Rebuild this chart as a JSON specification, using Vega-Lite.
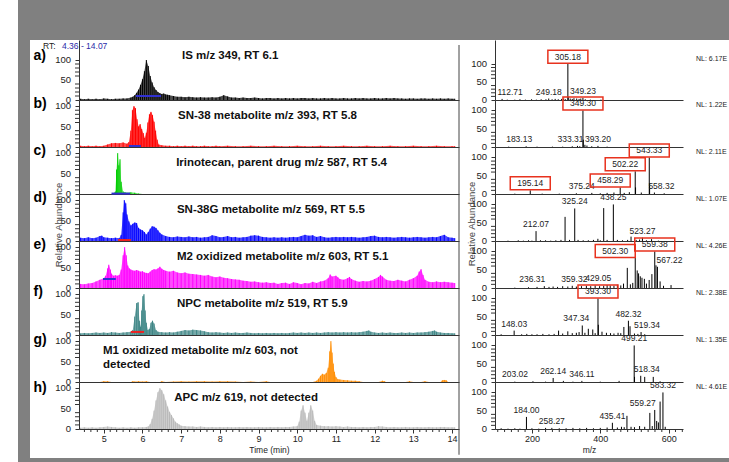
{
"$schema": "https://vega.github.io/schema/vega-lite/v6.json",
"background": "white",
"padding": {"left": 18, "top": 0, "right": 0, "bottom": 0},
"spacing": 0,
"config": {
  "view": {"stroke": null},
  "font": "Liberation Sans",
  "axis": {"grid": false, "labelFont": "Liberation Sans", "titleFont": "Liberation Sans", "labelColor": "#222", "titleColor": "#222", "domainColor": "#333", "tickColor": "#333"},
  "text": {"font": "Liberation Sans"}
},
"datasets": {
"yl": [{"y":0},{"y":50},{"y":100}],
"yt": [{"y":10},{"y":20},{"y":30},{"y":40},{"y":60},{"y":70},{"y":80},{"y":90}],
"xt": [{"x":4.5},{"x":4.6667},{"x":4.8333},{"x":5.1667},{"x":5.3333},{"x":5.5},{"x":5.6667},{"x":5.8333},{"x":6.1667},{"x":6.3333},{"x":6.5},{"x":6.6667},{"x":6.8333},{"x":7.1667},{"x":7.3333},{"x":7.5},{"x":7.6667},{"x":7.8333},{"x":8.1667},{"x":8.3333},{"x":8.5},{"x":8.6667},{"x":8.8333},{"x":9.1667},{"x":9.3333},{"x":9.5},{"x":9.6667},{"x":9.8333},{"x":10.1667},{"x":10.3333},{"x":10.5},{"x":10.6667},{"x":10.8333},{"x":11.1667},{"x":11.3333},{"x":11.5},{"x":11.6667},{"x":11.8333},{"x":12.1667},{"x":12.3333},{"x":12.5},{"x":12.6667},{"x":12.8333},{"x":13.1667},{"x":13.3333},{"x":13.5},{"x":13.6667},{"x":13.8333}],
"mt": [{"x":100},{"x":120},{"x":140},{"x":160},{"x":180},{"x":220},{"x":240},{"x":260},{"x":280},{"x":300},{"x":320},{"x":340},{"x":360},{"x":380},{"x":420},{"x":440},{"x":460},{"x":480},{"x":500},{"x":520},{"x":540},{"x":560},{"x":580},{"x":620},{"x":640}],
"ca": [{"t":4.4,"v":3},{"t":4.5,"v":2},{"t":4.6,"v":3},{"t":4.7,"v":2},{"t":4.8,"v":3},{"t":4.9,"v":2},{"t":5.0,"v":4},{"t":5.1,"v":3},{"t":5.2,"v":2},{"t":5.3,"v":3},{"t":5.4,"v":3},{"t":5.5,"v":4},{"t":5.6,"v":4},{"t":5.7,"v":6},{"t":5.75,"v":8},{"t":5.8,"v":12},{"t":5.85,"v":18},{"t":5.9,"v":26},{"t":5.95,"v":38},{"t":6.0,"v":52},{"t":6.05,"v":72},{"t":6.1,"v":100},{"t":6.15,"v":85},{"t":6.2,"v":60},{"t":6.25,"v":44},{"t":6.3,"v":32},{"t":6.35,"v":25},{"t":6.4,"v":20},{"t":6.45,"v":17},{"t":6.5,"v":15},{"t":6.55,"v":16},{"t":6.6,"v":14},{"t":6.65,"v":13},{"t":6.7,"v":12},{"t":6.8,"v":10},{"t":6.9,"v":8},{"t":7.0,"v":8},{"t":7.1,"v":7},{"t":7.2,"v":8},{"t":7.3,"v":7},{"t":7.4,"v":6},{"t":7.5,"v":7},{"t":7.6,"v":6},{"t":7.7,"v":6},{"t":7.8,"v":7},{"t":7.9,"v":6},{"t":8.0,"v":8},{"t":8.1,"v":12},{"t":8.2,"v":9},{"t":8.3,"v":6},{"t":8.4,"v":6},{"t":8.5,"v":5},{"t":8.6,"v":6},{"t":8.7,"v":5},{"t":8.8,"v":5},{"t":8.9,"v":6},{"t":9.0,"v":5},{"t":9.1,"v":4},{"t":9.2,"v":5},{"t":9.3,"v":5},{"t":9.4,"v":4},{"t":9.5,"v":5},{"t":9.6,"v":4},{"t":9.7,"v":5},{"t":9.8,"v":4},{"t":9.9,"v":5},{"t":10.0,"v":4},{"t":10.1,"v":5},{"t":10.2,"v":5},{"t":10.3,"v":4},{"t":10.4,"v":5},{"t":10.5,"v":4},{"t":10.6,"v":4},{"t":10.7,"v":5},{"t":10.8,"v":4},{"t":10.9,"v":5},{"t":11.0,"v":4},{"t":11.1,"v":4},{"t":11.2,"v":5},{"t":11.3,"v":4},{"t":11.4,"v":4},{"t":11.5,"v":5},{"t":11.6,"v":4},{"t":11.7,"v":5},{"t":11.8,"v":4},{"t":11.9,"v":4},{"t":12.0,"v":5},{"t":12.1,"v":4},{"t":12.2,"v":4},{"t":12.3,"v":5},{"t":12.4,"v":4},{"t":12.5,"v":5},{"t":12.6,"v":4},{"t":12.7,"v":4},{"t":12.8,"v":3},{"t":12.9,"v":4},{"t":13.0,"v":4},{"t":13.1,"v":3},{"t":13.2,"v":4},{"t":13.3,"v":4},{"t":13.4,"v":3},{"t":13.5,"v":4},{"t":13.6,"v":3},{"t":13.7,"v":4},{"t":13.8,"v":3},{"t":13.9,"v":4},{"t":14.0,"v":3},{"t":14.07,"v":3}],
"cb": [{"t":4.4,"v":3},{"t":4.5,"v":2},{"t":4.6,"v":3},{"t":4.7,"v":2},{"t":4.8,"v":3},{"t":4.9,"v":2},{"t":5.0,"v":3},{"t":5.1,"v":6},{"t":5.2,"v":9},{"t":5.3,"v":10},{"t":5.4,"v":9},{"t":5.5,"v":11},{"t":5.6,"v":8},{"t":5.65,"v":12},{"t":5.7,"v":40},{"t":5.74,"v":90},{"t":5.78,"v":100},{"t":5.82,"v":95},{"t":5.86,"v":68},{"t":5.9,"v":50},{"t":5.94,"v":56},{"t":5.98,"v":44},{"t":6.02,"v":34},{"t":6.06,"v":22},{"t":6.1,"v":35},{"t":6.14,"v":60},{"t":6.18,"v":80},{"t":6.22,"v":86},{"t":6.26,"v":78},{"t":6.3,"v":62},{"t":6.34,"v":40},{"t":6.38,"v":18},{"t":6.42,"v":6},{"t":6.5,"v":4},{"t":6.6,"v":3},{"t":6.7,"v":3},{"t":6.8,"v":2},{"t":6.9,"v":3},{"t":7.0,"v":2},{"t":7.1,"v":3},{"t":7.2,"v":2},{"t":7.3,"v":3},{"t":7.4,"v":2},{"t":7.5,"v":2},{"t":7.6,"v":3},{"t":7.7,"v":2},{"t":7.8,"v":2},{"t":7.9,"v":3},{"t":8.0,"v":2},{"t":8.2,"v":3},{"t":8.4,"v":2},{"t":8.6,"v":2},{"t":8.8,"v":3},{"t":9.0,"v":2},{"t":9.2,"v":2},{"t":9.4,"v":3},{"t":9.6,"v":2},{"t":9.8,"v":2},{"t":10.0,"v":3},{"t":10.2,"v":2},{"t":10.4,"v":2},{"t":10.6,"v":3},{"t":10.8,"v":2},{"t":11.0,"v":2},{"t":11.2,"v":3},{"t":11.4,"v":2},{"t":11.6,"v":2},{"t":11.8,"v":3},{"t":12.0,"v":2},{"t":12.2,"v":2},{"t":12.4,"v":3},{"t":12.6,"v":2},{"t":12.8,"v":2},{"t":13.0,"v":3},{"t":13.2,"v":2},{"t":13.4,"v":2},{"t":13.6,"v":3},{"t":13.8,"v":2},{"t":14.0,"v":2},{"t":14.07,"v":2}],
"cc": [{"t":4.4,"v":0},{"t":5.2,"v":0},{"t":5.25,"v":2},{"t":5.3,"v":6},{"t":5.33,"v":60},{"t":5.36,"v":100},{"t":5.39,"v":70},{"t":5.42,"v":85},{"t":5.45,"v":30},{"t":5.5,"v":6},{"t":5.55,"v":4},{"t":5.6,"v":3},{"t":5.7,"v":4},{"t":5.8,"v":3},{"t":5.9,"v":1},{"t":6.0,"v":0},{"t":14.07,"v":0}],
"cd": [{"t":4.4,"v":8},{"t":4.5,"v":7},{"t":4.6,"v":9},{"t":4.7,"v":7},{"t":4.8,"v":8},{"t":4.9,"v":12},{"t":4.95,"v":13},{"t":5.0,"v":9},{"t":5.1,"v":8},{"t":5.2,"v":7},{"t":5.3,"v":8},{"t":5.4,"v":7},{"t":5.45,"v":15},{"t":5.5,"v":70},{"t":5.53,"v":100},{"t":5.57,"v":92},{"t":5.6,"v":65},{"t":5.65,"v":48},{"t":5.7,"v":38},{"t":5.75,"v":42},{"t":5.8,"v":45},{"t":5.85,"v":44},{"t":5.9,"v":32},{"t":5.95,"v":28},{"t":6.0,"v":26},{"t":6.05,"v":22},{"t":6.1,"v":16},{"t":6.15,"v":22},{"t":6.2,"v":30},{"t":6.25,"v":36},{"t":6.3,"v":35},{"t":6.35,"v":32},{"t":6.4,"v":26},{"t":6.45,"v":20},{"t":6.5,"v":16},{"t":6.6,"v":12},{"t":6.7,"v":10},{"t":6.8,"v":9},{"t":6.9,"v":11},{"t":7.0,"v":10},{"t":7.1,"v":9},{"t":7.2,"v":11},{"t":7.3,"v":9},{"t":7.4,"v":10},{"t":7.5,"v":8},{"t":7.6,"v":9},{"t":7.7,"v":10},{"t":7.8,"v":14},{"t":7.9,"v":12},{"t":8.0,"v":9},{"t":8.1,"v":10},{"t":8.2,"v":12},{"t":8.3,"v":9},{"t":8.4,"v":10},{"t":8.5,"v":8},{"t":8.6,"v":9},{"t":8.7,"v":10},{"t":8.8,"v":13},{"t":8.9,"v":14},{"t":9.0,"v":13},{"t":9.1,"v":10},{"t":9.2,"v":9},{"t":9.3,"v":8},{"t":9.4,"v":9},{"t":9.5,"v":8},{"t":9.6,"v":9},{"t":9.7,"v":8},{"t":9.8,"v":9},{"t":9.9,"v":10},{"t":10.0,"v":9},{"t":10.1,"v":12},{"t":10.2,"v":15},{"t":10.3,"v":13},{"t":10.4,"v":14},{"t":10.5,"v":10},{"t":10.6,"v":12},{"t":10.7,"v":9},{"t":10.8,"v":8},{"t":10.9,"v":9},{"t":11.0,"v":10},{"t":11.1,"v":9},{"t":11.2,"v":10},{"t":11.3,"v":9},{"t":11.4,"v":10},{"t":11.5,"v":9},{"t":11.6,"v":8},{"t":11.7,"v":9},{"t":11.8,"v":10},{"t":11.9,"v":12},{"t":12.0,"v":13},{"t":12.1,"v":10},{"t":12.2,"v":9},{"t":12.3,"v":10},{"t":12.4,"v":9},{"t":12.5,"v":8},{"t":12.6,"v":9},{"t":12.7,"v":10},{"t":12.8,"v":9},{"t":12.9,"v":8},{"t":13.0,"v":9},{"t":13.1,"v":10},{"t":13.2,"v":9},{"t":13.3,"v":8},{"t":13.4,"v":9},{"t":13.5,"v":10},{"t":13.6,"v":9},{"t":13.7,"v":12},{"t":13.8,"v":15},{"t":13.9,"v":9},{"t":14.0,"v":8},{"t":14.07,"v":7}],
"ce": [{"t":4.4,"v":10},{"t":4.5,"v":9},{"t":4.6,"v":11},{"t":4.7,"v":12},{"t":4.8,"v":16},{"t":4.9,"v":20},{"t":5.0,"v":24},{"t":5.05,"v":30},{"t":5.1,"v":48},{"t":5.13,"v":57},{"t":5.17,"v":45},{"t":5.2,"v":35},{"t":5.25,"v":30},{"t":5.3,"v":31},{"t":5.35,"v":30},{"t":5.4,"v":32},{"t":5.45,"v":45},{"t":5.5,"v":80},{"t":5.54,"v":100},{"t":5.58,"v":80},{"t":5.62,"v":55},{"t":5.66,"v":48},{"t":5.7,"v":45},{"t":5.75,"v":43},{"t":5.8,"v":42},{"t":5.85,"v":44},{"t":5.9,"v":42},{"t":5.95,"v":40},{"t":6.0,"v":41},{"t":6.05,"v":38},{"t":6.1,"v":37},{"t":6.15,"v":36},{"t":6.2,"v":40},{"t":6.25,"v":44},{"t":6.3,"v":46},{"t":6.35,"v":45},{"t":6.4,"v":48},{"t":6.45,"v":52},{"t":6.5,"v":47},{"t":6.55,"v":44},{"t":6.6,"v":42},{"t":6.7,"v":40},{"t":6.8,"v":42},{"t":6.9,"v":38},{"t":7.0,"v":36},{"t":7.1,"v":38},{"t":7.2,"v":35},{"t":7.3,"v":34},{"t":7.4,"v":33},{"t":7.5,"v":32},{"t":7.6,"v":30},{"t":7.7,"v":32},{"t":7.8,"v":28},{"t":7.9,"v":26},{"t":8.0,"v":28},{"t":8.1,"v":25},{"t":8.2,"v":24},{"t":8.3,"v":22},{"t":8.4,"v":21},{"t":8.5,"v":20},{"t":8.6,"v":18},{"t":8.7,"v":17},{"t":8.8,"v":15},{"t":8.9,"v":16},{"t":9.0,"v":14},{"t":9.1,"v":13},{"t":9.2,"v":14},{"t":9.3,"v":12},{"t":9.4,"v":13},{"t":9.5,"v":10},{"t":9.6,"v":12},{"t":9.7,"v":13},{"t":9.8,"v":10},{"t":9.9,"v":14},{"t":10.0,"v":12},{"t":10.1,"v":9},{"t":10.2,"v":12},{"t":10.3,"v":11},{"t":10.4,"v":15},{"t":10.5,"v":12},{"t":10.6,"v":16},{"t":10.7,"v":18},{"t":10.8,"v":24},{"t":10.85,"v":33},{"t":10.9,"v":28},{"t":11.0,"v":30},{"t":11.05,"v":26},{"t":11.1,"v":22},{"t":11.2,"v":20},{"t":11.3,"v":24},{"t":11.35,"v":27},{"t":11.4,"v":22},{"t":11.5,"v":18},{"t":11.6,"v":15},{"t":11.7,"v":17},{"t":11.8,"v":16},{"t":11.9,"v":18},{"t":12.0,"v":22},{"t":12.1,"v":27},{"t":12.15,"v":32},{"t":12.2,"v":28},{"t":12.3,"v":20},{"t":12.4,"v":18},{"t":12.5,"v":17},{"t":12.6,"v":20},{"t":12.7,"v":18},{"t":12.8,"v":16},{"t":12.9,"v":20},{"t":13.0,"v":24},{"t":13.1,"v":30},{"t":13.15,"v":40},{"t":13.2,"v":46},{"t":13.25,"v":32},{"t":13.3,"v":20},{"t":13.4,"v":15},{"t":13.5,"v":14},{"t":13.6,"v":16},{"t":13.7,"v":14},{"t":13.8,"v":15},{"t":13.9,"v":14},{"t":14.0,"v":13},{"t":14.07,"v":12}],
"cf": [{"t":4.4,"v":4},{"t":4.5,"v":5},{"t":4.6,"v":4},{"t":4.7,"v":5},{"t":4.8,"v":6},{"t":4.9,"v":5},{"t":5.0,"v":6},{"t":5.1,"v":5},{"t":5.2,"v":7},{"t":5.3,"v":6},{"t":5.4,"v":5},{"t":5.5,"v":6},{"t":5.6,"v":7},{"t":5.7,"v":8},{"t":5.75,"v":12},{"t":5.8,"v":45},{"t":5.85,"v":78},{"t":5.89,"v":80},{"t":5.92,"v":35},{"t":5.95,"v":20},{"t":5.98,"v":60},{"t":6.01,"v":95},{"t":6.04,"v":100},{"t":6.07,"v":60},{"t":6.1,"v":30},{"t":6.14,"v":12},{"t":6.18,"v":15},{"t":6.22,"v":30},{"t":6.26,"v":35},{"t":6.3,"v":28},{"t":6.35,"v":12},{"t":6.4,"v":8},{"t":6.5,"v":7},{"t":6.6,"v":6},{"t":6.7,"v":7},{"t":6.8,"v":6},{"t":6.9,"v":8},{"t":7.0,"v":10},{"t":7.1,"v":12},{"t":7.2,"v":11},{"t":7.3,"v":13},{"t":7.4,"v":12},{"t":7.5,"v":11},{"t":7.6,"v":9},{"t":7.7,"v":7},{"t":7.8,"v":6},{"t":7.9,"v":7},{"t":8.0,"v":6},{"t":8.1,"v":5},{"t":8.2,"v":6},{"t":8.3,"v":5},{"t":8.4,"v":6},{"t":8.5,"v":5},{"t":8.6,"v":5},{"t":8.7,"v":6},{"t":8.8,"v":5},{"t":8.9,"v":4},{"t":9.0,"v":5},{"t":9.1,"v":4},{"t":9.2,"v":5},{"t":9.3,"v":4},{"t":9.4,"v":5},{"t":9.5,"v":4},{"t":9.6,"v":5},{"t":9.7,"v":4},{"t":9.8,"v":5},{"t":9.9,"v":6},{"t":10.0,"v":5},{"t":10.1,"v":6},{"t":10.2,"v":5},{"t":10.3,"v":6},{"t":10.4,"v":5},{"t":10.5,"v":6},{"t":10.6,"v":5},{"t":10.7,"v":6},{"t":10.8,"v":7},{"t":10.9,"v":6},{"t":11.0,"v":7},{"t":11.1,"v":6},{"t":11.2,"v":7},{"t":11.3,"v":6},{"t":11.4,"v":7},{"t":11.5,"v":6},{"t":11.6,"v":7},{"t":11.7,"v":8},{"t":11.8,"v":10},{"t":11.85,"v":11},{"t":11.9,"v":8},{"t":12.0,"v":6},{"t":12.1,"v":5},{"t":12.2,"v":6},{"t":12.3,"v":5},{"t":12.4,"v":6},{"t":12.5,"v":5},{"t":12.6,"v":5},{"t":12.7,"v":6},{"t":12.8,"v":5},{"t":12.9,"v":6},{"t":13.0,"v":5},{"t":13.1,"v":6},{"t":13.2,"v":6},{"t":13.3,"v":7},{"t":13.4,"v":8},{"t":13.5,"v":10},{"t":13.55,"v":11},{"t":13.6,"v":8},{"t":13.7,"v":6},{"t":13.8,"v":5},{"t":13.9,"v":5},{"t":14.0,"v":4},{"t":14.07,"v":4}],
"cg": [{"t":4.4,"v":0},{"t":4.9,"v":0},{"t":5.0,"v":2},{"t":5.1,"v":2},{"t":5.2,"v":0},{"t":5.7,"v":0},{"t":5.75,"v":2},{"t":5.8,"v":1},{"t":5.9,"v":2},{"t":6.0,"v":1},{"t":6.1,"v":2},{"t":6.2,"v":0},{"t":6.45,"v":0},{"t":6.5,"v":2},{"t":6.6,"v":0},{"t":6.8,"v":1},{"t":7.0,"v":2},{"t":7.2,"v":1},{"t":7.4,"v":2},{"t":7.6,"v":2},{"t":7.8,"v":1},{"t":8.0,"v":2},{"t":8.2,"v":2},{"t":8.4,"v":1},{"t":8.6,"v":0},{"t":8.8,"v":1},{"t":9.0,"v":0},{"t":9.2,"v":2},{"t":9.3,"v":0},{"t":10.4,"v":0},{"t":10.5,"v":3},{"t":10.55,"v":8},{"t":10.6,"v":15},{"t":10.65,"v":20},{"t":10.7,"v":18},{"t":10.75,"v":22},{"t":10.8,"v":35},{"t":10.84,"v":75},{"t":10.87,"v":100},{"t":10.9,"v":72},{"t":10.93,"v":45},{"t":10.96,"v":25},{"t":11.0,"v":12},{"t":11.05,"v":7},{"t":11.1,"v":6},{"t":11.2,"v":5},{"t":11.3,"v":4},{"t":11.4,"v":3},{"t":11.5,"v":3},{"t":11.6,"v":2},{"t":11.7,"v":0},{"t":12.1,"v":0},{"t":12.2,"v":3},{"t":12.25,"v":2},{"t":12.3,"v":0},{"t":12.8,"v":0},{"t":12.9,"v":2},{"t":13.0,"v":0},{"t":13.2,"v":0},{"t":13.3,"v":2},{"t":13.4,"v":0},{"t":13.7,"v":0},{"t":13.75,"v":4},{"t":13.8,"v":5},{"t":13.85,"v":4},{"t":13.9,"v":0},{"t":14.07,"v":0}],
"ch": [{"t":4.4,"v":3},{"t":4.5,"v":4},{"t":4.6,"v":3},{"t":4.7,"v":4},{"t":4.8,"v":3},{"t":4.9,"v":4},{"t":5.0,"v":5},{"t":5.1,"v":6},{"t":5.2,"v":5},{"t":5.3,"v":4},{"t":5.4,"v":3},{"t":5.5,"v":4},{"t":5.6,"v":3},{"t":5.7,"v":4},{"t":5.8,"v":3},{"t":5.9,"v":4},{"t":6.0,"v":4},{"t":6.1,"v":5},{"t":6.15,"v":6},{"t":6.2,"v":12},{"t":6.25,"v":25},{"t":6.3,"v":45},{"t":6.35,"v":70},{"t":6.4,"v":90},{"t":6.45,"v":100},{"t":6.5,"v":95},{"t":6.55,"v":85},{"t":6.6,"v":70},{"t":6.65,"v":55},{"t":6.7,"v":42},{"t":6.75,"v":34},{"t":6.8,"v":26},{"t":6.85,"v":18},{"t":6.9,"v":14},{"t":6.95,"v":11},{"t":7.0,"v":8},{"t":7.1,"v":7},{"t":7.2,"v":6},{"t":7.3,"v":6},{"t":7.4,"v":5},{"t":7.5,"v":6},{"t":7.6,"v":5},{"t":7.7,"v":4},{"t":7.8,"v":5},{"t":7.9,"v":4},{"t":8.0,"v":5},{"t":8.1,"v":4},{"t":8.2,"v":5},{"t":8.3,"v":4},{"t":8.4,"v":4},{"t":8.5,"v":5},{"t":8.6,"v":4},{"t":8.7,"v":5},{"t":8.8,"v":4},{"t":8.9,"v":4},{"t":9.0,"v":5},{"t":9.1,"v":4},{"t":9.2,"v":4},{"t":9.3,"v":5},{"t":9.4,"v":4},{"t":9.5,"v":5},{"t":9.6,"v":4},{"t":9.7,"v":5},{"t":9.8,"v":5},{"t":9.9,"v":6},{"t":10.0,"v":7},{"t":10.05,"v":18},{"t":10.1,"v":45},{"t":10.15,"v":58},{"t":10.2,"v":40},{"t":10.25,"v":20},{"t":10.3,"v":40},{"t":10.35,"v":58},{"t":10.4,"v":45},{"t":10.45,"v":20},{"t":10.5,"v":10},{"t":10.6,"v":8},{"t":10.7,"v":7},{"t":10.8,"v":7},{"t":10.9,"v":6},{"t":11.0,"v":7},{"t":11.1,"v":6},{"t":11.2,"v":5},{"t":11.3,"v":6},{"t":11.4,"v":5},{"t":11.5,"v":5},{"t":11.6,"v":4},{"t":11.7,"v":5},{"t":11.8,"v":4},{"t":11.9,"v":5},{"t":12.0,"v":5},{"t":12.1,"v":7},{"t":12.2,"v":6},{"t":12.3,"v":5},{"t":12.4,"v":4},{"t":12.5,"v":5},{"t":12.6,"v":4},{"t":12.7,"v":4},{"t":12.8,"v":5},{"t":12.9,"v":4},{"t":13.0,"v":4},{"t":13.1,"v":5},{"t":13.2,"v":4},{"t":13.3,"v":4},{"t":13.4,"v":5},{"t":13.5,"v":4},{"t":13.6,"v":4},{"t":13.7,"v":5},{"t":13.8,"v":5},{"t":13.9,"v":4},{"t":14.0,"v":4},{"t":14.07,"v":4}],
"sa": [{"mz":112.71,"i":3,"lab":1},{"mz":128,"i":1},{"mz":150,"i":1},{"mz":165,"i":2},{"mz":181,"i":1},{"mz":199,"i":2},{"mz":213,"i":1},{"mz":227,"i":2},{"mz":241,"i":2},{"mz":249.18,"i":4,"lab":1},{"mz":259,"i":2},{"mz":268,"i":3},{"mz":277,"i":2},{"mz":287,"i":3},{"mz":293,"i":4},{"mz":298,"i":2},{"mz":305.18,"i":100,"lab":1,"box":1},{"mz":306.2,"i":8},{"mz":312,"i":4},{"mz":318,"i":3},{"mz":323,"i":5},{"mz":331,"i":4},{"mz":338,"i":3},{"mz":343,"i":4},{"mz":349.23,"i":6,"lab":1},{"mz":356,"i":2},{"mz":371,"i":1},{"mz":402,"i":1}],
"sb": [{"mz":132,"i":1},{"mz":183.13,"i":2,"lab":1},{"mz":215,"i":1},{"mz":260,"i":1},{"mz":290,"i":1},{"mz":318,"i":2},{"mz":333.31,"i":3,"lab":1},{"mz":340,"i":2},{"mz":349.3,"i":100,"lab":1,"box":1},{"mz":350.3,"i":20},{"mz":355,"i":6},{"mz":361,"i":4},{"mz":375,"i":2},{"mz":393.2,"i":3,"lab":1},{"mz":420,"i":1}],
"sc": [{"mz":150,"i":1},{"mz":195.14,"i":10,"lab":1,"box":1},{"mz":230,"i":1},{"mz":280,"i":1},{"mz":330,"i":2},{"mz":375.24,"i":3,"lab":1},{"mz":400,"i":2},{"mz":420,"i":3},{"mz":440,"i":4},{"mz":458.29,"i":18,"lab":1,"box":1},{"mz":470,"i":3},{"mz":485,"i":5},{"mz":502.22,"i":62,"lab":1,"box":1},{"mz":503.2,"i":18},{"mz":520,"i":4},{"mz":543.33,"i":100,"lab":1,"box":1},{"mz":544.3,"i":30},{"mz":558.32,"i":4,"lab":1},{"mz":587,"i":2}],
"sd": [{"mz":130,"i":1},{"mz":160,"i":2},{"mz":175,"i":1},{"mz":190,"i":2},{"mz":200,"i":1},{"mz":212.07,"i":27,"lab":1},{"mz":225,"i":2},{"mz":240,"i":2},{"mz":255,"i":1},{"mz":270,"i":2},{"mz":285,"i":3},{"mz":297,"i":66},{"mz":310,"i":3},{"mz":325.24,"i":89,"lab":1},{"mz":335,"i":3},{"mz":350,"i":2},{"mz":365,"i":2},{"mz":380,"i":3},{"mz":393,"i":6},{"mz":400,"i":2},{"mz":410,"i":90},{"mz":420,"i":3},{"mz":438.25,"i":100,"lab":1},{"mz":450,"i":3},{"mz":465,"i":2},{"mz":480,"i":3},{"mz":490,"i":12},{"mz":505,"i":3},{"mz":515,"i":4},{"mz":523.27,"i":9,"lab":1},{"mz":535,"i":2},{"mz":550,"i":5},{"mz":570,"i":1}],
"se": [{"mz":150,"i":1},{"mz":190,"i":2},{"mz":215,"i":3},{"mz":236.31,"i":5,"lab":1},{"mz":250,"i":3},{"mz":262,"i":4},{"mz":275,"i":3},{"mz":290,"i":5},{"mz":305,"i":4},{"mz":318,"i":6},{"mz":330,"i":4},{"mz":345,"i":5},{"mz":359.32,"i":6,"lab":1},{"mz":372,"i":5},{"mz":385,"i":7},{"mz":398,"i":5},{"mz":410,"i":6},{"mz":420,"i":8},{"mz":429.05,"i":7,"lab":1},{"mz":440,"i":6},{"mz":450,"i":9},{"mz":460,"i":7},{"mz":468,"i":12},{"mz":479,"i":55},{"mz":488,"i":10},{"mz":495,"i":14},{"mz":502.3,"i":82,"lab":1,"box":1},{"mz":508,"i":48},{"mz":512,"i":40},{"mz":517,"i":32},{"mz":522,"i":28},{"mz":529,"i":25},{"mz":535,"i":12},{"mz":543,"i":22},{"mz":551,"i":38},{"mz":559.38,"i":100,"lab":1,"box":1},{"mz":563,"i":62},{"mz":567.22,"i":58,"lab":1},{"mz":575,"i":18},{"mz":585,"i":6},{"mz":607,"i":8}],
"sf": [{"mz":110,"i":2},{"mz":148.03,"i":12,"lab":1},{"mz":170,"i":2},{"mz":185,"i":3},{"mz":200,"i":2},{"mz":215,"i":2},{"mz":232,"i":3},{"mz":250,"i":2},{"mz":265,"i":3},{"mz":278,"i":12},{"mz":290,"i":4},{"mz":305,"i":10},{"mz":318,"i":5},{"mz":330,"i":6},{"mz":338,"i":8},{"mz":347.34,"i":26,"lab":1},{"mz":355,"i":6},{"mz":365,"i":17},{"mz":378,"i":15},{"mz":385,"i":5},{"mz":393.3,"i":100,"lab":1,"box":1},{"mz":394.3,"i":28},{"mz":405,"i":9},{"mz":418,"i":6},{"mz":430,"i":5},{"mz":440,"i":4},{"mz":452,"i":6},{"mz":460,"i":5},{"mz":469,"i":22},{"mz":482.32,"i":39,"lab":1},{"mz":487,"i":24},{"mz":500,"i":4},{"mz":510,"i":3},{"mz":519.34,"i":8,"lab":1},{"mz":530,"i":2}],
"sg": [{"mz":150,"i":1},{"mz":203.02,"i":2,"lab":1},{"mz":240,"i":1},{"mz":262.14,"i":11,"lab":1},{"mz":292,"i":3},{"mz":320,"i":1},{"mz":346.11,"i":3,"lab":1},{"mz":400,"i":1},{"mz":455,"i":3},{"mz":499.21,"i":100,"lab":1},{"mz":500.2,"i":14},{"mz":518.34,"i":17,"lab":1},{"mz":530,"i":14},{"mz":555,"i":14},{"mz":575,"i":2}],
"sh": [{"mz":110,"i":2},{"mz":130,"i":1},{"mz":150,"i":2},{"mz":165,"i":1},{"mz":184.0,"i":33,"lab":1},{"mz":200,"i":2},{"mz":220,"i":1},{"mz":240,"i":3},{"mz":258.27,"i":3,"lab":1},{"mz":280,"i":2},{"mz":300,"i":2},{"mz":320,"i":3},{"mz":340,"i":2},{"mz":360,"i":3},{"mz":380,"i":2},{"mz":400,"i":3},{"mz":420,"i":4},{"mz":435.41,"i":17,"lab":1},{"mz":450,"i":4},{"mz":462,"i":6},{"mz":470,"i":5},{"mz":478,"i":36},{"mz":490,"i":6},{"mz":500,"i":5},{"mz":515,"i":8},{"mz":530,"i":6},{"mz":545,"i":44},{"mz":552,"i":8},{"mz":559.27,"i":52,"lab":1},{"mz":565,"i":22},{"mz":570,"i":18},{"mz":575,"i":75},{"mz":583.32,"i":100,"lab":1},{"mz":590,"i":6}]
},
"vconcat": [
{"width": 711, "height": 40, "view": {"fill": "#808080", "stroke": null}, "data": {"values": [{}]}, "mark": {"type": "point", "opacity": 0, "size": 1, "strokeWidth": 0}, "encoding": {}},
{"columns": 6, "spacing": 0, "bounds": "flush", "align": "each",
"concat": [
{"width": 12, "height": 60, "view": {"fill": "#808080", "stroke": null}, "data": {"values": [{}]}, "mark": {"type": "point", "opacity": 0, "size": 1, "strokeWidth": 0}, "encoding": {}},
{"width": 49, "height": 10, "data": {"values": [{}]}, "mark": {"type": "point", "opacity": 0, "size": 1, "strokeWidth": 0}, "encoding": {}},
{"width": 380, "height": 60, "layer": [
 {"data": {"name": "ca"}, "mark": {"type": "area", "color": "#000000", "opacity": 0.7}, "encoding": {
   "x": {"field": "t", "type": "quantitative", "scale": {"domain": [4.36, 14.18], "nice": false, "zero": false}, "axis": {"title": null, "labels": false, "ticks": false}},
   "y": {"field": "v", "type": "quantitative", "scale": {"domain": [0, 150], "nice": false}, "axis": {"values": [0,50,100], "labels": false, "tickSize": 4, "title": "a)", "titleAngle": 0, "titleAlign": "left", "titleBaseline": "middle", "titleX": -46, "titleY": 15, "titleFontSize": 14, "titleFontWeight": "bold", "titleColor": "#000"}}}},
 {"data": {"name": "ca"}, "mark": {"type": "rule", "color": "#000000", "strokeWidth": 1}, "encoding": {"x": {"field": "t", "type": "quantitative"}, "y": {"field": "v", "type": "quantitative"}, "y2": {"datum": 0}}},
 {"data": {"name": "yt"}, "mark": {"type": "tick", "orient": "horizontal", "size": 4, "thickness": 1, "color": "#333", "opacity": 1, "xOffset": -2}, "encoding": {"x": {"datum": 4.36}, "y": {"field": "y", "type": "quantitative"}}},
 {"data": {"name": "yl"}, "mark": {"type": "text", "align": "right", "baseline": "middle", "fontSize": 9.5, "xOffset": -8, "color": "#222"}, "encoding": {"x": {"datum": 4.36}, "y": {"field": "y", "type": "quantitative"}, "text": {"field": "y", "type": "quantitative"}}},
 {"data": {"values": [{}]}, "mark": {"type": "rule", "color": "#3030d0", "strokeWidth": 2}, "encoding": {"x": {"datum": 5.83}, "x2": {"datum": 6.48}, "y": {"datum": 10}}},
 {"data": {"values": [{}]}, "mark": {"type": "rule", "color": "#444444", "strokeWidth": 1}, "encoding": {"x": {"datum": 14.18}, "y": {"datum": 0}, "y2": {"datum": 137.5}}},
 {"data": {"values": [{}]}, "mark": {"type": "text", "text": "IS m/z 349, RT 6.1", "align": "left", "baseline": "top", "fontSize": 11.5, "fontWeight": "bold", "color": "#111"}, "encoding": {"x": {"datum": 7.02}, "y": {"datum": 125}}},
 {"data": {"values": [{}]}, "mark": {"type": "text", "text": "RT:", "align": "left", "baseline": "middle", "fontSize": 8.5, "color": "#222"}, "encoding": {"x": {"datum": 3.43}, "y": {"datum": 135}}},
 {"data": {"values": [{}]}, "mark": {"type": "text", "text": "4.36 - 14.07", "align": "left", "baseline": "middle", "fontSize": 8.5, "color": "#2a2aa8"}, "encoding": {"x": {"datum": 3.92}, "y": {"datum": 135}}}
]},
{"width": 36, "height": 10, "data": {"values": [{}]}, "mark": {"type": "point", "opacity": 0, "size": 1, "strokeWidth": 0}, "encoding": {}},
{"width": 188, "height": 60, "data": {"name": "sa"}, "layer": [
 {"mark": {"type": "rule", "color": "#000", "strokeWidth": 1}, "encoding": {
   "x": {"field": "mz", "type": "quantitative", "scale": {"domain": [92, 642], "nice": false, "zero": false}, "axis": {"title": null, "labels": false, "ticks": false}},
   "y": {"field": "i", "type": "quantitative", "scale": {"domain": [0, 166], "nice": false}, "axis": {"values": [0,50,100], "labels": false, "tickSize": 4, "title": null}},
   "y2": {"datum": 0}}},
 {"data": {"name": "yt"}, "mark": {"type": "tick", "orient": "horizontal", "size": 4, "thickness": 1, "color": "#333", "opacity": 1, "xOffset": -2}, "encoding": {"x": {"datum": 92}, "y": {"field": "y", "type": "quantitative"}}},
 {"data": {"name": "yl"}, "mark": {"type": "text", "align": "right", "baseline": "middle", "fontSize": 9.5, "xOffset": -8, "color": "#222"}, "encoding": {"x": {"datum": 92}, "y": {"field": "y", "type": "quantitative"}, "text": {"field": "y", "type": "quantitative"}}},
 {"transform": [{"filter": "datum.lab && indexof([112.71], datum.mz) < 0"}], "mark": {"type": "text", "fontSize": 8.5, "baseline": "middle", "yOffset": -7, "color": "#222"}, "encoding": {"x": {"field": "mz", "type": "quantitative"}, "y": {"field": "i", "type": "quantitative"}, "text": {"field": "mz", "type": "quantitative", "format": ".2f"}}},
 {"transform": [{"filter": "indexof([112.71], datum.mz) >= 0"}], "mark": {"type": "text", "fontSize": 8.5, "baseline": "middle", "yOffset": -7, "xOffset": 8, "color": "#222"}, "encoding": {"x": {"field": "mz", "type": "quantitative"}, "y": {"field": "i", "type": "quantitative"}, "text": {"field": "mz", "type": "quantitative", "format": ".2f"}}},
 {"transform": [{"filter": "datum.box"}], "mark": {"type": "point", "shape": "M-1,-0.325H1V0.325H-1Z", "size": 1600, "filled": false, "color": "#e8321e", "strokeWidth": 1.5, "opacity": 1, "yOffset": -7}, "encoding": {"x": {"field": "mz", "type": "quantitative"}, "y": {"field": "i", "type": "quantitative"}}},
 {"data": {"values": [{}]}, "mark": {"type": "text", "text": "NL: 6.17E", "align": "left", "baseline": "middle", "fontSize": 7, "color": "#222"}, "encoding": {"x": {"datum": 680}, "y": {"datum": 114}}}
]},
{"width": 46, "height": 10, "data": {"values": [{}]}, "mark": {"type": "point", "opacity": 0, "size": 1, "strokeWidth": 0}, "encoding": {}},

{"width": 12, "height": 47, "view": {"fill": "#808080", "stroke": null}, "data": {"values": [{}]}, "mark": {"type": "point", "opacity": 0, "size": 1, "strokeWidth": 0}, "encoding": {}},
{"width": 1, "height": 10, "data": {"values": [{}]}, "mark": {"type": "point", "opacity": 0, "size": 1, "strokeWidth": 0}, "encoding": {}},
{"width": 380, "height": 47, "layer": [
 {"data": {"name": "cb"}, "mark": {"type": "area", "color": "#ff0000", "opacity": 0.7}, "encoding": {
   "x": {"field": "t", "type": "quantitative", "scale": {"domain": [4.36, 14.18], "nice": false, "zero": false}, "axis": {"title": null, "labels": false, "ticks": false}},
   "y": {"field": "v", "type": "quantitative", "scale": {"domain": [0, 115], "nice": false}, "axis": {"values": [0,50,100], "labels": false, "tickSize": 4, "title": "b)", "titleAngle": 0, "titleAlign": "left", "titleBaseline": "middle", "titleX": -46, "titleY": 3, "titleFontSize": 14, "titleFontWeight": "bold", "titleColor": "#000"}}}},
 {"data": {"name": "cb"}, "mark": {"type": "rule", "color": "#ff0000", "strokeWidth": 1}, "encoding": {"x": {"field": "t", "type": "quantitative"}, "y": {"field": "v", "type": "quantitative"}, "y2": {"datum": 0}}},
 {"data": {"name": "yt"}, "mark": {"type": "tick", "orient": "horizontal", "size": 4, "thickness": 1, "color": "#333", "opacity": 1, "xOffset": -2}, "encoding": {"x": {"datum": 4.36}, "y": {"field": "y", "type": "quantitative"}}},
 {"data": {"name": "yl"}, "mark": {"type": "text", "align": "right", "baseline": "middle", "fontSize": 9.5, "xOffset": -8, "color": "#222"}, "encoding": {"x": {"datum": 4.36}, "y": {"field": "y", "type": "quantitative"}, "text": {"field": "y", "type": "quantitative"}}},
 {"data": {"values": [{}]}, "mark": {"type": "rule", "color": "#3030d0", "strokeWidth": 2}, "encoding": {"x": {"datum": 5.65}, "x2": {"datum": 5.96}, "y": {"datum": 2.5}}},
 {"data": {"values": [{}]}, "mark": {"type": "rule", "color": "#444444", "strokeWidth": 1}, "encoding": {"x": {"datum": 14.18}, "y": {"datum": 0}, "y2": {"datum": 115}}},
 {"data": {"values": [{}]}, "mark": {"type": "text", "text": "SN-38 metabolite m/z 393, RT 5.8", "align": "left", "baseline": "top", "fontSize": 11.5, "fontWeight": "bold", "color": "#111"}, "encoding": {"x": {"datum": 6.92}, "y": {"datum": 90}}}
]},
{"width": 1, "height": 10, "data": {"values": [{}]}, "mark": {"type": "point", "opacity": 0, "size": 1, "strokeWidth": 0}, "encoding": {}},
{"width": 188, "height": 47, "data": {"name": "sb"}, "layer": [
 {"mark": {"type": "rule", "color": "#000", "strokeWidth": 1}, "encoding": {
   "x": {"field": "mz", "type": "quantitative", "scale": {"domain": [92, 642], "nice": false, "zero": false}, "axis": {"title": null, "labels": false, "ticks": false}},
   "y": {"field": "i", "type": "quantitative", "scale": {"domain": [0, 128.5], "nice": false}, "axis": {"values": [0,50,100], "labels": false, "tickSize": 4, "title": null}},
   "y2": {"datum": 0}}},
 {"data": {"name": "yt"}, "mark": {"type": "tick", "orient": "horizontal", "size": 4, "thickness": 1, "color": "#333", "opacity": 1, "xOffset": -2}, "encoding": {"x": {"datum": 92}, "y": {"field": "y", "type": "quantitative"}}},
 {"data": {"name": "yl"}, "mark": {"type": "text", "align": "right", "baseline": "middle", "fontSize": 9.5, "xOffset": -8, "color": "#222"}, "encoding": {"x": {"datum": 92}, "y": {"field": "y", "type": "quantitative"}, "text": {"field": "y", "type": "quantitative"}}},
 {"transform": [{"filter": "datum.lab && indexof([183.13, 333.31], datum.mz) < 0"}], "mark": {"type": "text", "fontSize": 8.5, "baseline": "middle", "yOffset": -7, "color": "#222"}, "encoding": {"x": {"field": "mz", "type": "quantitative"}, "y": {"field": "i", "type": "quantitative"}, "text": {"field": "mz", "type": "quantitative", "format": ".2f"}}},
 {"transform": [{"filter": "indexof([183.13, 333.31], datum.mz) >= 0"}], "mark": {"type": "text", "fontSize": 8.5, "baseline": "middle", "yOffset": -7, "xOffset": -7, "color": "#222"}, "encoding": {"x": {"field": "mz", "type": "quantitative"}, "y": {"field": "i", "type": "quantitative"}, "text": {"field": "mz", "type": "quantitative", "format": ".2f"}}},
 {"transform": [{"filter": "datum.box"}], "mark": {"type": "point", "shape": "M-1,-0.325H1V0.325H-1Z", "size": 1600, "filled": false, "color": "#e8321e", "strokeWidth": 1.5, "opacity": 1, "yOffset": -7}, "encoding": {"x": {"field": "mz", "type": "quantitative"}, "y": {"field": "i", "type": "quantitative"}}},
 {"data": {"values": [{}]}, "mark": {"type": "text", "text": "NL: 1.22E", "align": "left", "baseline": "middle", "fontSize": 7, "color": "#222"}, "encoding": {"x": {"datum": 680}, "y": {"datum": 115}}}
]},
{"width": 1, "height": 10, "data": {"values": [{}]}, "mark": {"type": "point", "opacity": 0, "size": 1, "strokeWidth": 0}, "encoding": {}},

{"width": 12, "height": 47, "view": {"fill": "#808080", "stroke": null}, "data": {"values": [{}]}, "mark": {"type": "point", "opacity": 0, "size": 1, "strokeWidth": 0}, "encoding": {}},
{"width": 1, "height": 10, "data": {"values": [{}]}, "mark": {"type": "point", "opacity": 0, "size": 1, "strokeWidth": 0}, "encoding": {}},
{"width": 380, "height": 47, "layer": [
 {"data": {"name": "cc"}, "mark": {"type": "area", "color": "#22dd22", "opacity": 0.7}, "encoding": {
   "x": {"field": "t", "type": "quantitative", "scale": {"domain": [4.36, 14.18], "nice": false, "zero": false}, "axis": {"title": null, "labels": false, "ticks": false}},
   "y": {"field": "v", "type": "quantitative", "scale": {"domain": [0, 115], "nice": false}, "axis": {"values": [0,50,100], "labels": false, "tickSize": 4, "title": "c)", "titleAngle": 0, "titleAlign": "left", "titleBaseline": "middle", "titleX": -46, "titleY": 3, "titleFontSize": 14, "titleFontWeight": "bold", "titleColor": "#000"}}}},
 {"data": {"name": "cc"}, "mark": {"type": "rule", "color": "#00cc00", "strokeWidth": 1}, "encoding": {"x": {"field": "t", "type": "quantitative"}, "y": {"field": "v", "type": "quantitative"}, "y2": {"datum": 0}}},
 {"data": {"name": "yt"}, "mark": {"type": "tick", "orient": "horizontal", "size": 4, "thickness": 1, "color": "#333", "opacity": 1, "xOffset": -2}, "encoding": {"x": {"datum": 4.36}, "y": {"field": "y", "type": "quantitative"}}},
 {"data": {"name": "yl"}, "mark": {"type": "text", "align": "right", "baseline": "middle", "fontSize": 9.5, "xOffset": -8, "color": "#222"}, "encoding": {"x": {"datum": 4.36}, "y": {"field": "y", "type": "quantitative"}, "text": {"field": "y", "type": "quantitative"}}},
 {"data": {"values": [{}]}, "mark": {"type": "rule", "color": "#3030d0", "strokeWidth": 2}, "encoding": {"x": {"datum": 5.2}, "x2": {"datum": 5.68}, "y": {"datum": 1}}},
 {"data": {"values": [{}]}, "mark": {"type": "rule", "color": "#444444", "strokeWidth": 1}, "encoding": {"x": {"datum": 14.18}, "y": {"datum": 0}, "y2": {"datum": 115}}},
 {"data": {"values": [{}]}, "mark": {"type": "text", "text": "Irinotecan, parent drug m/z 587, RT 5.4", "align": "left", "baseline": "top", "fontSize": 11.5, "fontWeight": "bold", "color": "#111"}, "encoding": {"x": {"datum": 6.87}, "y": {"datum": 90}}}
]},
{"width": 1, "height": 10, "data": {"values": [{}]}, "mark": {"type": "point", "opacity": 0, "size": 1, "strokeWidth": 0}, "encoding": {}},
{"width": 188, "height": 47, "data": {"name": "sc"}, "layer": [
 {"mark": {"type": "rule", "color": "#000", "strokeWidth": 1}, "encoding": {
   "x": {"field": "mz", "type": "quantitative", "scale": {"domain": [92, 642], "nice": false, "zero": false}, "axis": {"title": null, "labels": false, "ticks": false}},
   "y": {"field": "i", "type": "quantitative", "scale": {"domain": [0, 128.5], "nice": false}, "axis": {"values": [0,50,100], "labels": false, "tickSize": 4, "title": null}},
   "y2": {"datum": 0}}},
 {"data": {"name": "yt"}, "mark": {"type": "tick", "orient": "horizontal", "size": 4, "thickness": 1, "color": "#333", "opacity": 1, "xOffset": -2}, "encoding": {"x": {"datum": 92}, "y": {"field": "y", "type": "quantitative"}}},
 {"data": {"name": "yl"}, "mark": {"type": "text", "align": "right", "baseline": "middle", "fontSize": 9.5, "xOffset": -8, "color": "#222"}, "encoding": {"x": {"datum": 92}, "y": {"field": "y", "type": "quantitative"}, "text": {"field": "y", "type": "quantitative"}}},
 {"transform": [{"filter": "datum.lab && indexof([375.24, 458.29, 502.22, 558.32], datum.mz) < 0"}], "mark": {"type": "text", "fontSize": 8.5, "baseline": "middle", "yOffset": -7, "color": "#222"}, "encoding": {"x": {"field": "mz", "type": "quantitative"}, "y": {"field": "i", "type": "quantitative"}, "text": {"field": "mz", "type": "quantitative", "format": ".2f"}}},
 {"transform": [{"filter": "indexof([375.24, 458.29, 502.22], datum.mz) >= 0"}], "mark": {"type": "text", "fontSize": 8.5, "baseline": "middle", "yOffset": -7, "xOffset": -10, "color": "#222"}, "encoding": {"x": {"field": "mz", "type": "quantitative"}, "y": {"field": "i", "type": "quantitative"}, "text": {"field": "mz", "type": "quantitative", "format": ".2f"}}},
 {"transform": [{"filter": "indexof([558.32], datum.mz) >= 0"}], "mark": {"type": "text", "fontSize": 8.5, "baseline": "middle", "yOffset": -7, "xOffset": 7, "color": "#222"}, "encoding": {"x": {"field": "mz", "type": "quantitative"}, "y": {"field": "i", "type": "quantitative"}, "text": {"field": "mz", "type": "quantitative", "format": ".2f"}}},
 {"transform": [{"filter": "datum.box && indexof([458.29, 502.22], datum.mz) < 0"}], "mark": {"type": "point", "shape": "M-1,-0.325H1V0.325H-1Z", "size": 1600, "filled": false, "color": "#e8321e", "strokeWidth": 1.5, "opacity": 1, "yOffset": -7}, "encoding": {"x": {"field": "mz", "type": "quantitative"}, "y": {"field": "i", "type": "quantitative"}}},
 {"transform": [{"filter": "indexof([458.29, 502.22], datum.mz) >= 0"}], "mark": {"type": "point", "shape": "M-1,-0.325H1V0.325H-1Z", "size": 1600, "filled": false, "color": "#e8321e", "strokeWidth": 1.5, "opacity": 1, "yOffset": -7, "xOffset": -10}, "encoding": {"x": {"field": "mz", "type": "quantitative"}, "y": {"field": "i", "type": "quantitative"}}},
 {"data": {"values": [{}]}, "mark": {"type": "text", "text": "NL: 2.11E", "align": "left", "baseline": "middle", "fontSize": 7, "color": "#222"}, "encoding": {"x": {"datum": 680}, "y": {"datum": 115}}}
]},
{"width": 1, "height": 10, "data": {"values": [{}]}, "mark": {"type": "point", "opacity": 0, "size": 1, "strokeWidth": 0}, "encoding": {}},

{"width": 12, "height": 47, "view": {"fill": "#808080", "stroke": null}, "data": {"values": [{}]}, "mark": {"type": "point", "opacity": 0, "size": 1, "strokeWidth": 0}, "encoding": {}},
{"width": 1, "height": 10, "data": {"values": [{}]}, "mark": {"type": "point", "opacity": 0, "size": 1, "strokeWidth": 0}, "encoding": {}},
{"width": 380, "height": 47, "layer": [
 {"data": {"name": "cd"}, "mark": {"type": "area", "color": "#0000ff", "opacity": 0.7}, "encoding": {
   "x": {"field": "t", "type": "quantitative", "scale": {"domain": [4.36, 14.18], "nice": false, "zero": false}, "axis": {"title": null, "labels": false, "ticks": false}},
   "y": {"field": "v", "type": "quantitative", "scale": {"domain": [0, 115], "nice": false}, "axis": {"values": [0,50,100], "labels": false, "tickSize": 4, "title": "d)", "titleAngle": 0, "titleAlign": "left", "titleBaseline": "middle", "titleX": -46, "titleY": 3, "titleFontSize": 14, "titleFontWeight": "bold", "titleColor": "#000"}}}},
 {"data": {"name": "cd"}, "mark": {"type": "rule", "color": "#0000ff", "strokeWidth": 1}, "encoding": {"x": {"field": "t", "type": "quantitative"}, "y": {"field": "v", "type": "quantitative"}, "y2": {"datum": 0}}},
 {"data": {"name": "yt"}, "mark": {"type": "tick", "orient": "horizontal", "size": 4, "thickness": 1, "color": "#333", "opacity": 1, "xOffset": -2}, "encoding": {"x": {"datum": 4.36}, "y": {"field": "y", "type": "quantitative"}}},
 {"data": {"name": "yl"}, "mark": {"type": "text", "align": "right", "baseline": "middle", "fontSize": 9.5, "xOffset": -8, "color": "#222"}, "encoding": {"x": {"datum": 4.36}, "y": {"field": "y", "type": "quantitative"}, "text": {"field": "y", "type": "quantitative"}}},
 {"data": {"values": [{}]}, "mark": {"type": "rule", "color": "#ee2222", "strokeWidth": 2}, "encoding": {"x": {"datum": 5.37}, "x2": {"datum": 5.7}, "y": {"datum": 2.5}}},
 {"data": {"values": [{}]}, "mark": {"type": "rule", "color": "#444444", "strokeWidth": 1}, "encoding": {"x": {"datum": 14.18}, "y": {"datum": 0}, "y2": {"datum": 115}}},
 {"data": {"values": [{}]}, "mark": {"type": "text", "text": "SN-38G metabolite m/z 569, RT 5.5", "align": "left", "baseline": "top", "fontSize": 11.5, "fontWeight": "bold", "color": "#111"}, "encoding": {"x": {"datum": 6.89}, "y": {"datum": 90}}},
 {"data": {"values": [{}]}, "mark": {"type": "text", "text": "Relative Abundance", "angle": 270, "align": "center", "baseline": "middle", "fontSize": 9.5, "color": "#444"}, "encoding": {"x": {"datum": 3.84}, "y": {"datum": 39}}}
]},
{"width": 1, "height": 10, "data": {"values": [{}]}, "mark": {"type": "point", "opacity": 0, "size": 1, "strokeWidth": 0}, "encoding": {}},
{"width": 188, "height": 47, "data": {"name": "sd"}, "layer": [
 {"mark": {"type": "rule", "color": "#000", "strokeWidth": 1}, "encoding": {
   "x": {"field": "mz", "type": "quantitative", "scale": {"domain": [92, 642], "nice": false, "zero": false}, "axis": {"title": null, "labels": false, "ticks": false}},
   "y": {"field": "i", "type": "quantitative", "scale": {"domain": [0, 128.5], "nice": false}, "axis": {"values": [0,50,100], "labels": false, "tickSize": 4, "title": null}},
   "y2": {"datum": 0}}},
 {"data": {"name": "yt"}, "mark": {"type": "tick", "orient": "horizontal", "size": 4, "thickness": 1, "color": "#333", "opacity": 1, "xOffset": -2}, "encoding": {"x": {"datum": 92}, "y": {"field": "y", "type": "quantitative"}}},
 {"data": {"name": "yl"}, "mark": {"type": "text", "align": "right", "baseline": "middle", "fontSize": 9.5, "xOffset": -8, "color": "#222"}, "encoding": {"x": {"datum": 92}, "y": {"field": "y", "type": "quantitative"}, "text": {"field": "y", "type": "quantitative"}}},
 {"transform": [{"filter": "datum.lab"}], "mark": {"type": "text", "fontSize": 8.5, "baseline": "middle", "yOffset": -7, "color": "#222"}, "encoding": {"x": {"field": "mz", "type": "quantitative"}, "y": {"field": "i", "type": "quantitative"}, "text": {"field": "mz", "type": "quantitative", "format": ".2f"}}},
 {"data": {"values": [{}]}, "mark": {"type": "text", "text": "NL: 1.07E", "align": "left", "baseline": "middle", "fontSize": 7, "color": "#222"}, "encoding": {"x": {"datum": 680}, "y": {"datum": 115}}},
 {"data": {"values": [{}]}, "mark": {"type": "text", "text": "Relative Abundance", "angle": 270, "align": "center", "baseline": "middle", "fontSize": 9.5, "color": "#444"}, "encoding": {"x": {"datum": 24.7}, "y": {"datum": 46.5}}}
]},
{"width": 1, "height": 10, "data": {"values": [{}]}, "mark": {"type": "point", "opacity": 0, "size": 1, "strokeWidth": 0}, "encoding": {}},

{"width": 12, "height": 47, "view": {"fill": "#808080", "stroke": null}, "data": {"values": [{}]}, "mark": {"type": "point", "opacity": 0, "size": 1, "strokeWidth": 0}, "encoding": {}},
{"width": 1, "height": 10, "data": {"values": [{}]}, "mark": {"type": "point", "opacity": 0, "size": 1, "strokeWidth": 0}, "encoding": {}},
{"width": 380, "height": 47, "layer": [
 {"data": {"name": "ce"}, "mark": {"type": "area", "color": "#ff00ff", "opacity": 0.7}, "encoding": {
   "x": {"field": "t", "type": "quantitative", "scale": {"domain": [4.36, 14.18], "nice": false, "zero": false}, "axis": {"title": null, "labels": false, "ticks": false}},
   "y": {"field": "v", "type": "quantitative", "scale": {"domain": [0, 115], "nice": false}, "axis": {"values": [0,50,100], "labels": false, "tickSize": 4, "title": "e)", "titleAngle": 0, "titleAlign": "left", "titleBaseline": "middle", "titleX": -46, "titleY": 3, "titleFontSize": 14, "titleFontWeight": "bold", "titleColor": "#000"}}}},
 {"data": {"name": "ce"}, "mark": {"type": "rule", "color": "#ff00ff", "strokeWidth": 1}, "encoding": {"x": {"field": "t", "type": "quantitative"}, "y": {"field": "v", "type": "quantitative"}, "y2": {"datum": 0}}},
 {"data": {"name": "yt"}, "mark": {"type": "tick", "orient": "horizontal", "size": 4, "thickness": 1, "color": "#333", "opacity": 1, "xOffset": -2}, "encoding": {"x": {"datum": 4.36}, "y": {"field": "y", "type": "quantitative"}}},
 {"data": {"name": "yl"}, "mark": {"type": "text", "align": "right", "baseline": "middle", "fontSize": 9.5, "xOffset": -8, "color": "#222"}, "encoding": {"x": {"datum": 4.36}, "y": {"field": "y", "type": "quantitative"}, "text": {"field": "y", "type": "quantitative"}}},
 {"data": {"values": [{}]}, "mark": {"type": "rule", "color": "#3030d0", "strokeWidth": 2}, "encoding": {"x": {"datum": 4.98}, "x2": {"datum": 5.31}, "y": {"datum": 22}}},
 {"data": {"values": [{}]}, "mark": {"type": "rule", "color": "#444444", "strokeWidth": 1}, "encoding": {"x": {"datum": 14.18}, "y": {"datum": 0}, "y2": {"datum": 115}}},
 {"data": {"values": [{}]}, "mark": {"type": "text", "text": "M2 oxidized metabolite m/z 603, RT 5.1", "align": "left", "baseline": "top", "fontSize": 11.5, "fontWeight": "bold", "color": "#111"}, "encoding": {"x": {"datum": 6.89}, "y": {"datum": 90}}}
]},
{"width": 1, "height": 10, "data": {"values": [{}]}, "mark": {"type": "point", "opacity": 0, "size": 1, "strokeWidth": 0}, "encoding": {}},
{"width": 188, "height": 47, "data": {"name": "se"}, "layer": [
 {"mark": {"type": "rule", "color": "#000", "strokeWidth": 1}, "encoding": {
   "x": {"field": "mz", "type": "quantitative", "scale": {"domain": [92, 642], "nice": false, "zero": false}, "axis": {"title": null, "labels": false, "ticks": false}},
   "y": {"field": "i", "type": "quantitative", "scale": {"domain": [0, 128.5], "nice": false}, "axis": {"values": [0,50,100], "labels": false, "tickSize": 4, "title": null}},
   "y2": {"datum": 0}}},
 {"data": {"name": "yt"}, "mark": {"type": "tick", "orient": "horizontal", "size": 4, "thickness": 1, "color": "#333", "opacity": 1, "xOffset": -2}, "encoding": {"x": {"datum": 92}, "y": {"field": "y", "type": "quantitative"}}},
 {"data": {"name": "yl"}, "mark": {"type": "text", "align": "right", "baseline": "middle", "fontSize": 9.5, "xOffset": -8, "color": "#222"}, "encoding": {"x": {"datum": 92}, "y": {"field": "y", "type": "quantitative"}, "text": {"field": "y", "type": "quantitative"}}},
 {"transform": [{"filter": "datum.lab && indexof([236.31, 359.32, 429.05, 502.3, 567.22], datum.mz) < 0"}], "mark": {"type": "text", "fontSize": 8.5, "baseline": "middle", "yOffset": -7, "color": "#222"}, "encoding": {"x": {"field": "mz", "type": "quantitative"}, "y": {"field": "i", "type": "quantitative"}, "text": {"field": "mz", "type": "quantitative", "format": ".2f"}}},
 {"transform": [{"filter": "indexof([236.31, 359.32, 429.05], datum.mz) >= 0"}], "mark": {"type": "text", "fontSize": 8.5, "baseline": "middle", "yOffset": -7, "xOffset": -12, "color": "#222"}, "encoding": {"x": {"field": "mz", "type": "quantitative"}, "y": {"field": "i", "type": "quantitative"}, "text": {"field": "mz", "type": "quantitative", "format": ".2f"}}},
 {"transform": [{"filter": "indexof([502.3], datum.mz) >= 0"}], "mark": {"type": "text", "fontSize": 8.5, "baseline": "middle", "yOffset": -7, "xOffset": -20, "color": "#222"}, "encoding": {"x": {"field": "mz", "type": "quantitative"}, "y": {"field": "i", "type": "quantitative"}, "text": {"field": "mz", "type": "quantitative", "format": ".2f"}}},
 {"transform": [{"filter": "indexof([567.22], datum.mz) >= 0"}], "mark": {"type": "text", "fontSize": 8.5, "baseline": "middle", "yOffset": -7, "xOffset": 12, "color": "#222"}, "encoding": {"x": {"field": "mz", "type": "quantitative"}, "y": {"field": "i", "type": "quantitative"}, "text": {"field": "mz", "type": "quantitative", "format": ".2f"}}},
 {"transform": [{"filter": "datum.box && indexof([502.3], datum.mz) < 0"}], "mark": {"type": "point", "shape": "M-1,-0.325H1V0.325H-1Z", "size": 1600, "filled": false, "color": "#e8321e", "strokeWidth": 1.5, "opacity": 1, "yOffset": -7}, "encoding": {"x": {"field": "mz", "type": "quantitative"}, "y": {"field": "i", "type": "quantitative"}}},
 {"transform": [{"filter": "indexof([502.3], datum.mz) >= 0"}], "mark": {"type": "point", "shape": "M-1,-0.325H1V0.325H-1Z", "size": 1600, "filled": false, "color": "#e8321e", "strokeWidth": 1.5, "opacity": 1, "yOffset": -7, "xOffset": -20}, "encoding": {"x": {"field": "mz", "type": "quantitative"}, "y": {"field": "i", "type": "quantitative"}}},
 {"data": {"values": [{}]}, "mark": {"type": "text", "text": "NL: 4.26E", "align": "left", "baseline": "middle", "fontSize": 7, "color": "#222"}, "encoding": {"x": {"datum": 680}, "y": {"datum": 115}}}
]},
{"width": 1, "height": 10, "data": {"values": [{}]}, "mark": {"type": "point", "opacity": 0, "size": 1, "strokeWidth": 0}, "encoding": {}},

{"width": 12, "height": 47, "view": {"fill": "#808080", "stroke": null}, "data": {"values": [{}]}, "mark": {"type": "point", "opacity": 0, "size": 1, "strokeWidth": 0}, "encoding": {}},
{"width": 1, "height": 10, "data": {"values": [{}]}, "mark": {"type": "point", "opacity": 0, "size": 1, "strokeWidth": 0}, "encoding": {}},
{"width": 380, "height": 47, "layer": [
 {"data": {"name": "cf"}, "mark": {"type": "area", "color": "#3d8585", "opacity": 0.7}, "encoding": {
   "x": {"field": "t", "type": "quantitative", "scale": {"domain": [4.36, 14.18], "nice": false, "zero": false}, "axis": {"title": null, "labels": false, "ticks": false}},
   "y": {"field": "v", "type": "quantitative", "scale": {"domain": [0, 115], "nice": false}, "axis": {"values": [0,50,100], "labels": false, "tickSize": 4, "title": "f)", "titleAngle": 0, "titleAlign": "left", "titleBaseline": "middle", "titleX": -46, "titleY": 3, "titleFontSize": 14, "titleFontWeight": "bold", "titleColor": "#000"}}}},
 {"data": {"name": "cf"}, "mark": {"type": "rule", "color": "#3d8585", "strokeWidth": 1}, "encoding": {"x": {"field": "t", "type": "quantitative"}, "y": {"field": "v", "type": "quantitative"}, "y2": {"datum": 0}}},
 {"data": {"name": "yt"}, "mark": {"type": "tick", "orient": "horizontal", "size": 4, "thickness": 1, "color": "#333", "opacity": 1, "xOffset": -2}, "encoding": {"x": {"datum": 4.36}, "y": {"field": "y", "type": "quantitative"}}},
 {"data": {"name": "yl"}, "mark": {"type": "text", "align": "right", "baseline": "middle", "fontSize": 9.5, "xOffset": -8, "color": "#222"}, "encoding": {"x": {"datum": 4.36}, "y": {"field": "y", "type": "quantitative"}, "text": {"field": "y", "type": "quantitative"}}},
 {"data": {"values": [{}]}, "mark": {"type": "rule", "color": "#ee2222", "strokeWidth": 2}, "encoding": {"x": {"datum": 5.7}, "x2": {"datum": 6.04}, "y": {"datum": 7.5}}},
 {"data": {"values": [{}]}, "mark": {"type": "rule", "color": "#444444", "strokeWidth": 1}, "encoding": {"x": {"datum": 14.18}, "y": {"datum": 0}, "y2": {"datum": 115}}},
 {"data": {"values": [{}]}, "mark": {"type": "text", "text": "NPC metabolite m/z 519, RT 5.9", "align": "left", "baseline": "top", "fontSize": 11.5, "fontWeight": "bold", "color": "#111"}, "encoding": {"x": {"datum": 6.89}, "y": {"datum": 90}}}
]},
{"width": 1, "height": 10, "data": {"values": [{}]}, "mark": {"type": "point", "opacity": 0, "size": 1, "strokeWidth": 0}, "encoding": {}},
{"width": 188, "height": 47, "data": {"name": "sf"}, "layer": [
 {"mark": {"type": "rule", "color": "#000", "strokeWidth": 1}, "encoding": {
   "x": {"field": "mz", "type": "quantitative", "scale": {"domain": [92, 642], "nice": false, "zero": false}, "axis": {"title": null, "labels": false, "ticks": false}},
   "y": {"field": "i", "type": "quantitative", "scale": {"domain": [0, 128.5], "nice": false}, "axis": {"values": [0,50,100], "labels": false, "tickSize": 4, "title": null}},
   "y2": {"datum": 0}}},
 {"data": {"name": "yt"}, "mark": {"type": "tick", "orient": "horizontal", "size": 4, "thickness": 1, "color": "#333", "opacity": 1, "xOffset": -2}, "encoding": {"x": {"datum": 92}, "y": {"field": "y", "type": "quantitative"}}},
 {"data": {"name": "yl"}, "mark": {"type": "text", "align": "right", "baseline": "middle", "fontSize": 9.5, "xOffset": -8, "color": "#222"}, "encoding": {"x": {"datum": 92}, "y": {"field": "y", "type": "quantitative"}, "text": {"field": "y", "type": "quantitative"}}},
 {"transform": [{"filter": "datum.lab && indexof([347.34, 519.34], datum.mz) < 0"}], "mark": {"type": "text", "fontSize": 8.5, "baseline": "middle", "yOffset": -7, "color": "#222"}, "encoding": {"x": {"field": "mz", "type": "quantitative"}, "y": {"field": "i", "type": "quantitative"}, "text": {"field": "mz", "type": "quantitative", "format": ".2f"}}},
 {"transform": [{"filter": "indexof([347.34], datum.mz) >= 0"}], "mark": {"type": "text", "fontSize": 8.5, "baseline": "middle", "yOffset": -7, "xOffset": -6, "color": "#222"}, "encoding": {"x": {"field": "mz", "type": "quantitative"}, "y": {"field": "i", "type": "quantitative"}, "text": {"field": "mz", "type": "quantitative", "format": ".2f"}}},
 {"transform": [{"filter": "indexof([519.34], datum.mz) >= 0"}], "mark": {"type": "text", "fontSize": 8.5, "baseline": "middle", "yOffset": -7, "xOffset": 6, "color": "#222"}, "encoding": {"x": {"field": "mz", "type": "quantitative"}, "y": {"field": "i", "type": "quantitative"}, "text": {"field": "mz", "type": "quantitative", "format": ".2f"}}},
 {"transform": [{"filter": "datum.box"}], "mark": {"type": "point", "shape": "M-1,-0.325H1V0.325H-1Z", "size": 1600, "filled": false, "color": "#e8321e", "strokeWidth": 1.5, "opacity": 1, "yOffset": -7}, "encoding": {"x": {"field": "mz", "type": "quantitative"}, "y": {"field": "i", "type": "quantitative"}}},
 {"data": {"values": [{}]}, "mark": {"type": "text", "text": "NL: 2.38E", "align": "left", "baseline": "middle", "fontSize": 7, "color": "#222"}, "encoding": {"x": {"datum": 680}, "y": {"datum": 115}}}
]},
{"width": 1, "height": 10, "data": {"values": [{}]}, "mark": {"type": "point", "opacity": 0, "size": 1, "strokeWidth": 0}, "encoding": {}},

{"width": 12, "height": 47, "view": {"fill": "#808080", "stroke": null}, "data": {"values": [{}]}, "mark": {"type": "point", "opacity": 0, "size": 1, "strokeWidth": 0}, "encoding": {}},
{"width": 1, "height": 10, "data": {"values": [{}]}, "mark": {"type": "point", "opacity": 0, "size": 1, "strokeWidth": 0}, "encoding": {}},
{"width": 380, "height": 47, "layer": [
 {"data": {"name": "cg"}, "mark": {"type": "area", "color": "#ff8c00", "opacity": 0.7}, "encoding": {
   "x": {"field": "t", "type": "quantitative", "scale": {"domain": [4.36, 14.18], "nice": false, "zero": false}, "axis": {"title": null, "labels": false, "ticks": false}},
   "y": {"field": "v", "type": "quantitative", "scale": {"domain": [0, 115], "nice": false}, "axis": {"values": [0,50,100], "labels": false, "tickSize": 4, "title": "g)", "titleAngle": 0, "titleAlign": "left", "titleBaseline": "middle", "titleX": -46, "titleY": 4, "titleFontSize": 14, "titleFontWeight": "bold", "titleColor": "#000"}}}},
 {"data": {"name": "cg"}, "mark": {"type": "rule", "color": "#ff8c00", "strokeWidth": 1}, "encoding": {"x": {"field": "t", "type": "quantitative"}, "y": {"field": "v", "type": "quantitative"}, "y2": {"datum": 0}}},
 {"data": {"name": "yt"}, "mark": {"type": "tick", "orient": "horizontal", "size": 4, "thickness": 1, "color": "#333", "opacity": 1, "xOffset": -2}, "encoding": {"x": {"datum": 4.36}, "y": {"field": "y", "type": "quantitative"}}},
 {"data": {"name": "yl"}, "mark": {"type": "text", "align": "right", "baseline": "middle", "fontSize": 9.5, "xOffset": -8, "color": "#222"}, "encoding": {"x": {"datum": 4.36}, "y": {"field": "y", "type": "quantitative"}, "text": {"field": "y", "type": "quantitative"}}},
 {"data": {"values": [{}]}, "mark": {"type": "rule", "color": "#444444", "strokeWidth": 1}, "encoding": {"x": {"datum": 14.18}, "y": {"datum": 0}, "y2": {"datum": 115}}},
 {"data": {"values": [{}]}, "mark": {"type": "text", "text": ["M1 oxidized metabolite m/z 603, not", "detected"], "lineHeight": 14, "align": "left", "baseline": "top", "fontSize": 11.5, "fontWeight": "bold", "color": "#111"}, "encoding": {"x": {"datum": 4.98}, "y": {"datum": 90}}}
]},
{"width": 1, "height": 10, "data": {"values": [{}]}, "mark": {"type": "point", "opacity": 0, "size": 1, "strokeWidth": 0}, "encoding": {}},
{"width": 188, "height": 47, "data": {"name": "sg"}, "layer": [
 {"mark": {"type": "rule", "color": "#000", "strokeWidth": 1}, "encoding": {
   "x": {"field": "mz", "type": "quantitative", "scale": {"domain": [92, 642], "nice": false, "zero": false}, "axis": {"title": null, "labels": false, "ticks": false}},
   "y": {"field": "i", "type": "quantitative", "scale": {"domain": [0, 128.5], "nice": false}, "axis": {"values": [0,50,100], "labels": false, "tickSize": 4, "title": null}},
   "y2": {"datum": 0}}},
 {"data": {"name": "yt"}, "mark": {"type": "tick", "orient": "horizontal", "size": 4, "thickness": 1, "color": "#333", "opacity": 1, "xOffset": -2}, "encoding": {"x": {"datum": 92}, "y": {"field": "y", "type": "quantitative"}}},
 {"data": {"name": "yl"}, "mark": {"type": "text", "align": "right", "baseline": "middle", "fontSize": 9.5, "xOffset": -8, "color": "#222"}, "encoding": {"x": {"datum": 92}, "y": {"field": "y", "type": "quantitative"}, "text": {"field": "y", "type": "quantitative"}}},
 {"transform": [{"filter": "datum.lab && indexof([203.02, 518.34], datum.mz) < 0"}], "mark": {"type": "text", "fontSize": 8.5, "baseline": "middle", "yOffset": -7, "color": "#222"}, "encoding": {"x": {"field": "mz", "type": "quantitative"}, "y": {"field": "i", "type": "quantitative"}, "text": {"field": "mz", "type": "quantitative", "format": ".2f"}}},
 {"transform": [{"filter": "indexof([203.02], datum.mz) >= 0"}], "mark": {"type": "text", "fontSize": 8.5, "baseline": "middle", "yOffset": -7, "xOffset": -18, "color": "#222"}, "encoding": {"x": {"field": "mz", "type": "quantitative"}, "y": {"field": "i", "type": "quantitative"}, "text": {"field": "mz", "type": "quantitative", "format": ".2f"}}},
 {"transform": [{"filter": "indexof([518.34], datum.mz) >= 0"}], "mark": {"type": "text", "fontSize": 8.5, "baseline": "middle", "yOffset": -7, "xOffset": 6, "color": "#222"}, "encoding": {"x": {"field": "mz", "type": "quantitative"}, "y": {"field": "i", "type": "quantitative"}, "text": {"field": "mz", "type": "quantitative", "format": ".2f"}}},
 {"data": {"values": [{}]}, "mark": {"type": "text", "text": "NL: 1.35E", "align": "left", "baseline": "middle", "fontSize": 7, "color": "#222"}, "encoding": {"x": {"datum": 680}, "y": {"datum": 115}}}
]},
{"width": 1, "height": 10, "data": {"values": [{}]}, "mark": {"type": "point", "opacity": 0, "size": 1, "strokeWidth": 0}, "encoding": {}},

{"width": 12, "height": 76, "view": {"fill": "#808080", "stroke": null}, "data": {"values": [{}]}, "mark": {"type": "point", "opacity": 0, "size": 1, "strokeWidth": 0}, "encoding": {}},
{"width": 1, "height": 10, "data": {"values": [{}]}, "mark": {"type": "point", "opacity": 0, "size": 1, "strokeWidth": 0}, "encoding": {}},
{"width": 380, "height": 47, "layer": [
 {"data": {"name": "ch"}, "mark": {"type": "area", "color": "#cccccc", "opacity": 0.9}, "encoding": {
   "x": {"field": "t", "type": "quantitative", "scale": {"domain": [4.36, 14.18], "nice": false, "zero": false}, "axis": {"title": "Time (min)", "values": [5,6,7,8,9,10,11,12,13,14], "tickSize": 4, "labelFontSize": 9, "labelPadding": 1, "labelFlush": false, "titleFontSize": 8.5, "titleFontWeight": "normal", "titlePadding": 2}},
   "y": {"field": "v", "type": "quantitative", "scale": {"domain": [0, 115], "nice": false}, "axis": {"values": [0,50,100], "labels": false, "tickSize": 4, "title": "h)", "titleAngle": 0, "titleAlign": "left", "titleBaseline": "middle", "titleX": -46, "titleY": 5, "titleFontSize": 14, "titleFontWeight": "bold", "titleColor": "#000"}}}},
 {"data": {"name": "ch"}, "mark": {"type": "rule", "color": "#b8b8b8", "strokeWidth": 1}, "encoding": {"x": {"field": "t", "type": "quantitative"}, "y": {"field": "v", "type": "quantitative"}, "y2": {"datum": 0}}},
 {"data": {"name": "yt"}, "mark": {"type": "tick", "orient": "horizontal", "size": 4, "thickness": 1, "color": "#333", "opacity": 1, "xOffset": -2}, "encoding": {"x": {"datum": 4.36}, "y": {"field": "y", "type": "quantitative"}}},
 {"data": {"name": "yl"}, "mark": {"type": "text", "align": "right", "baseline": "middle", "fontSize": 9.5, "xOffset": -8, "color": "#222"}, "encoding": {"x": {"datum": 4.36}, "y": {"field": "y", "type": "quantitative"}, "text": {"field": "y", "type": "quantitative"}}},
 {"data": {"name": "xt"}, "mark": {"type": "tick", "orient": "vertical", "size": 3, "thickness": 1, "color": "#333", "opacity": 1, "yOffset": 1.5}, "encoding": {"x": {"field": "x", "type": "quantitative"}, "y": {"datum": 0}}},
 {"data": {"values": [{}]}, "mark": {"type": "rule", "color": "#444444", "strokeWidth": 1}, "encoding": {"x": {"datum": 14.18}, "y": {"datum": -63}, "y2": {"datum": 115}}},
 {"data": {"values": [{}]}, "mark": {"type": "text", "text": "APC m/z 619, not detected", "align": "left", "baseline": "top", "fontSize": 11.5, "fontWeight": "bold", "color": "#111"}, "encoding": {"x": {"datum": 6.82}, "y": {"datum": 90}}}
]},
{"width": 1, "height": 10, "data": {"values": [{}]}, "mark": {"type": "point", "opacity": 0, "size": 1, "strokeWidth": 0}, "encoding": {}},
{"width": 188, "height": 47, "data": {"name": "sh"}, "layer": [
 {"mark": {"type": "rule", "color": "#000", "strokeWidth": 1}, "encoding": {
   "x": {"field": "mz", "type": "quantitative", "scale": {"domain": [92, 642], "nice": false, "zero": false}, "axis": {"title": "m/z", "values": [200,400,600], "tickSize": 4, "labelFontSize": 9, "labelPadding": 1, "labelFlush": false, "titleFontSize": 8.5, "titleFontWeight": "normal", "titlePadding": 2}},
   "y": {"field": "i", "type": "quantitative", "scale": {"domain": [0, 128.5], "nice": false}, "axis": {"values": [0,50,100], "labels": false, "tickSize": 4, "title": null}},
   "y2": {"datum": 0}}},
 {"data": {"name": "yt"}, "mark": {"type": "tick", "orient": "horizontal", "size": 4, "thickness": 1, "color": "#333", "opacity": 1, "xOffset": -2}, "encoding": {"x": {"datum": 92}, "y": {"field": "y", "type": "quantitative"}}},
 {"data": {"name": "yl"}, "mark": {"type": "text", "align": "right", "baseline": "middle", "fontSize": 9.5, "xOffset": -8, "color": "#222"}, "encoding": {"x": {"datum": 92}, "y": {"field": "y", "type": "quantitative"}, "text": {"field": "y", "type": "quantitative"}}},
 {"data": {"name": "mt"}, "mark": {"type": "tick", "orient": "vertical", "size": 3, "thickness": 1, "color": "#333", "opacity": 1, "yOffset": 1.5}, "encoding": {"x": {"field": "x", "type": "quantitative"}, "y": {"datum": 0}}},
 {"transform": [{"filter": "datum.lab && indexof([559.27], datum.mz) < 0"}], "mark": {"type": "text", "fontSize": 8.5, "baseline": "middle", "yOffset": -7, "color": "#222"}, "encoding": {"x": {"field": "mz", "type": "quantitative"}, "y": {"field": "i", "type": "quantitative"}, "text": {"field": "mz", "type": "quantitative", "format": ".2f"}}},
 {"transform": [{"filter": "indexof([559.27], datum.mz) >= 0"}], "mark": {"type": "text", "fontSize": 8.5, "baseline": "middle", "yOffset": -7, "xOffset": -12, "color": "#222"}, "encoding": {"x": {"field": "mz", "type": "quantitative"}, "y": {"field": "i", "type": "quantitative"}, "text": {"field": "mz", "type": "quantitative", "format": ".2f"}}},
 {"data": {"values": [{}]}, "mark": {"type": "text", "text": "NL: 4.61E", "align": "left", "baseline": "middle", "fontSize": 7, "color": "#222"}, "encoding": {"x": {"datum": 680}, "y": {"datum": 115}}}
]},
{"width": 1, "height": 10, "data": {"values": [{}]}, "mark": {"type": "point", "opacity": 0, "size": 1, "strokeWidth": 0}, "encoding": {}}
]},
{"width": 711, "height": 4, "view": {"fill": "#808080", "stroke": null}, "data": {"values": [{}]}, "mark": {"type": "point", "opacity": 0, "size": 1, "strokeWidth": 0}, "encoding": {}}
]
}
